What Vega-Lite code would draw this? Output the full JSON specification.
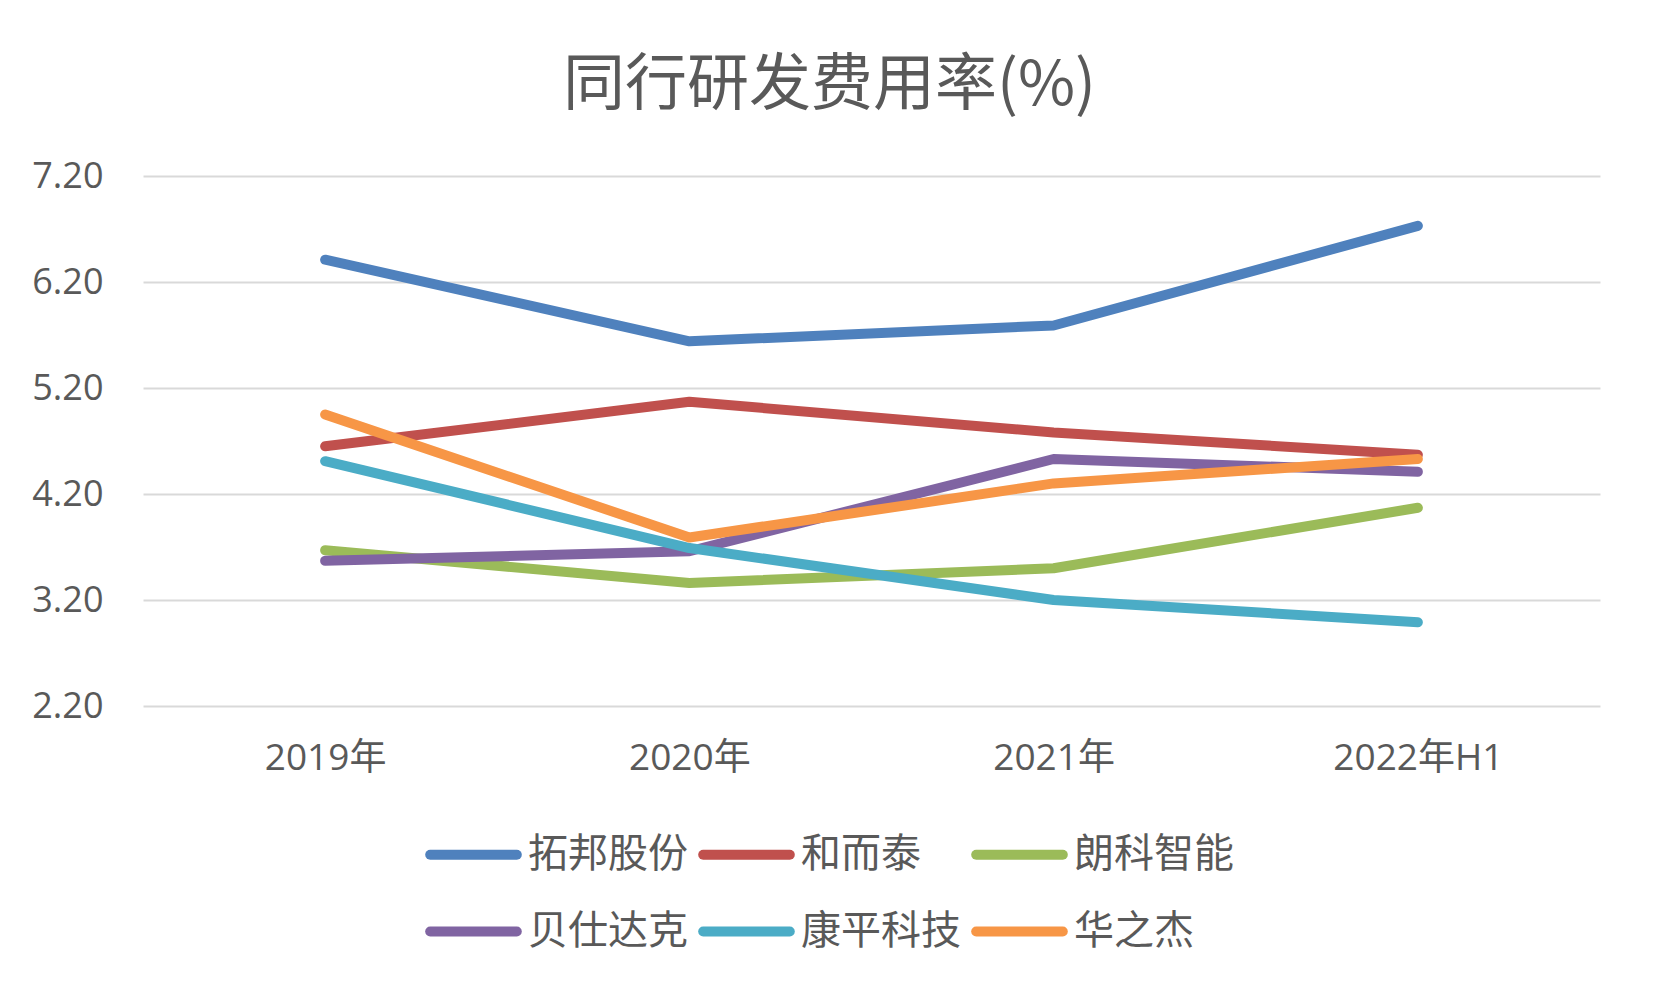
{
  "$schema": "https://vega.github.io/schema/vega-lite/v6.json",
  "width": 1457,
  "height": 530,
  "autosize": {"type": "none"},
  "padding": {"left": 143, "top": 176, "right": 53, "bottom": 287},
  "background": "white",
  "title": {
    "text": "同行研发费用率(%)",
    "font": "Noto Sans CJK SC",
    "fontSize": 62,
    "fontWeight": "normal",
    "color": "#595959",
    "anchor": "middle",
    "dx": -42,
    "offset": 40
  },
  "data": {
    "values": [
      {"company": "拓邦股份", "period": "2019年", "rate": 6.41},
      {"company": "拓邦股份", "period": "2020年", "rate": 5.64},
      {"company": "拓邦股份", "period": "2021年", "rate": 5.79},
      {"company": "拓邦股份", "period": "2022年H1", "rate": 6.73},
      {"company": "和而泰", "period": "2019年", "rate": 4.65},
      {"company": "和而泰", "period": "2020年", "rate": 5.07},
      {"company": "和而泰", "period": "2021年", "rate": 4.78},
      {"company": "和而泰", "period": "2022年H1", "rate": 4.57},
      {"company": "朗科智能", "period": "2019年", "rate": 3.67},
      {"company": "朗科智能", "period": "2020年", "rate": 3.36},
      {"company": "朗科智能", "period": "2021年", "rate": 3.50},
      {"company": "朗科智能", "period": "2022年H1", "rate": 4.07},
      {"company": "贝仕达克", "period": "2019年", "rate": 3.57},
      {"company": "贝仕达克", "period": "2020年", "rate": 3.66},
      {"company": "贝仕达克", "period": "2021年", "rate": 4.53},
      {"company": "贝仕达克", "period": "2022年H1", "rate": 4.41},
      {"company": "康平科技", "period": "2019年", "rate": 4.51},
      {"company": "康平科技", "period": "2020年", "rate": 3.69},
      {"company": "康平科技", "period": "2021年", "rate": 3.20},
      {"company": "康平科技", "period": "2022年H1", "rate": 2.99},
      {"company": "华之杰", "period": "2019年", "rate": 4.95},
      {"company": "华之杰", "period": "2020年", "rate": 3.79},
      {"company": "华之杰", "period": "2021年", "rate": 4.30},
      {"company": "华之杰", "period": "2022年H1", "rate": 4.53}
    ]
  },
  "mark": {
    "type": "line",
    "strokeWidth": 10,
    "strokeCap": "round",
    "strokeJoin": "round"
  },
  "encoding": {
    "x": {
      "field": "period",
      "type": "ordinal",
      "sort": ["2019年", "2020年", "2021年", "2022年H1"],
      "scale": {"type": "point", "padding": 0.5},
      "axis": {
        "title": null,
        "labelAngle": 0,
        "labelFont": "Open Sans, Noto Sans CJK SC",
        "labelFontSize": 37,
        "labelColor": "#595959",
        "labelPadding": 34,
        "ticks": false,
        "domain": false,
        "grid": false
      }
    },
    "y": {
      "field": "rate",
      "type": "quantitative",
      "scale": {"domain": [2.2, 7.2], "nice": false, "zero": false},
      "axis": {
        "title": null,
        "values": [2.2, 3.2, 4.2, 5.2, 6.2, 7.2],
        "format": ".2f",
        "labelFont": "Open Sans",
        "labelFontSize": 36,
        "labelColor": "#595959",
        "labelPadding": 40,
        "ticks": false,
        "domain": false,
        "grid": true,
        "gridColor": "#d9d9d9",
        "gridWidth": 2
      }
    },
    "color": {
      "field": "company",
      "type": "nominal",
      "scale": {
        "domain": ["拓邦股份", "和而泰", "朗科智能", "贝仕达克", "康平科技", "华之杰"],
        "range": ["#4F81BD", "#C0504D", "#9BBB59", "#8064A2", "#4BACC6", "#F79646"]
      },
      "legend": {
        "title": null,
        "orient": "none",
        "legendX": 282,
        "legendY": 630,
        "direction": "horizontal",
        "columns": 3,
        "padding": 0,
        "symbolType": "stroke",
        "symbolSize": 7500,
        "symbolStrokeWidth": 10,
        "labelFont": "Noto Sans CJK SC",
        "labelFontSize": 40,
        "labelColor": "#595959",
        "labelLimit": 300,
        "labelOffset": 6,
        "columnPadding": -5,
        "rowPadding": 8,
        "encode": {"symbols": {"update": {"strokeCap": {"value": "round"}}}}
      }
    }
  },
  "config": {"view": {"stroke": null}}
}
